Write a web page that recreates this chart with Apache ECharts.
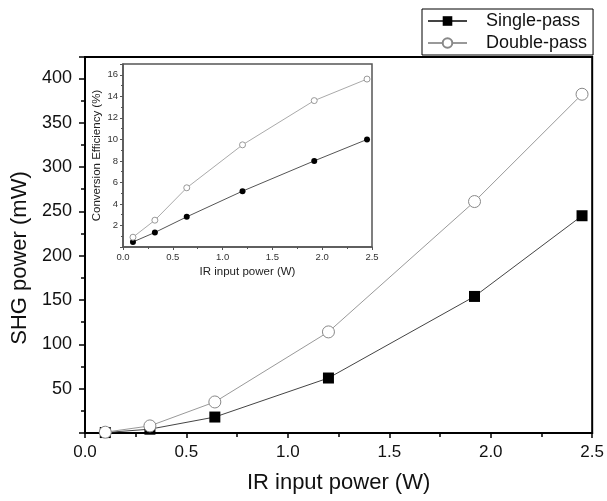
<!DOCTYPE html>
<html>
<head>
<meta charset="utf-8">
<script src="https://cdn.jsdelivr.net/npm/echarts@6/dist/echarts.min.js"></script>
<style>
html,body{margin:0;padding:0;background:#fff;}
#chart{width:607px;height:501px;}
</style>
</head>
<body>
<div id="chart"></div>
<script>
const irPower = [0.1, 0.32, 0.64, 1.2, 1.92, 2.45];
const singlePassSHG = [0.5, 4.3, 18, 62, 154, 245];
const doublePassSHG = [0.9, 8, 35, 114, 261, 382];
const singlePassEff = [0.47, 1.35, 2.8, 5.19, 8.0, 9.99];
const doublePassEff = [0.91, 2.49, 5.5, 9.49, 13.6, 15.6];
const seriesNames = ['Single-pass', 'Double-pass'];
const mainXTicks = [0, 0.5, 1.0, 1.5, 2.0, 2.5];
const mainYTicks = [50, 100, 150, 200, 250, 300, 350, 400];
const insetYTicks = [2, 4, 6, 8, 10, 12, 14, 16];

const pairs = (xs, ys) => xs.map((x, i) => [x, ys[i]]);
const FONT = 'Liberation Sans, Arial, sans-serif';

const chart = echarts.init(document.getElementById('chart'), null, {renderer: 'canvas'});
const option = {
  backgroundColor: '#fff',
  animation: false,
  textStyle: {fontFamily: FONT},
  legend: {
    data: seriesNames,
    orient: 'vertical',
    left: 422,
    top: 9,
    itemWidth: 39,
    itemHeight: 12,
    itemGap: 0,
    padding: [1, 6, 1, 5],
    borderColor: '#000',
    borderWidth: 1,
    backgroundColor: '#fff',
    textStyle: {fontFamily: FONT, fontSize: 18, color: '#111', lineHeight: 22, padding: [0, 0, 0, 14]}
  },
  grid: [
    {left: 85, right: 13, top: 57, bottom: 68, show: true, borderColor: '#000', borderWidth: 2, backgroundColor: 'transparent', z: 0},
    {left: 123, right: 235, top: 64, bottom: 254, show: true, borderColor: '#555', borderWidth: 1.5, backgroundColor: '#fff', z: 5}
  ],
  xAxis: [
    {
      type: 'value', gridIndex: 0, min: 0, max: 2.5, interval: 0.5,
      name: 'IR input power (W)', nameLocation: 'middle', nameGap: 39,
      nameTextStyle: {fontFamily: FONT, fontSize: 22, color: '#111'},
      axisLine: {show: true, lineStyle: {color: '#000', width: 2}},
      axisTick: {show: true, inside: false, length: 5, lineStyle: {color: '#000', width: 1.5}},
      minorTick: {show: true, splitNumber: 2, length: 4, lineStyle: {color: '#000', width: 1.5}},
      axisLabel: {fontFamily: FONT, fontSize: 17, color: '#111', margin: 11,
        formatter: v => mainXTicks.some(t => Math.abs(t - v) < 1e-9) ? v.toFixed(1) : ''},
      splitLine: {show: false}
    },
    {
      type: 'value', gridIndex: 1, min: 0, max: 2.5, interval: 0.5,
      name: 'IR input power (W)', nameLocation: 'middle', nameGap: 19,
      nameTextStyle: {fontFamily: FONT, fontSize: 11.5, color: '#222'},
      axisLine: {show: true, lineStyle: {color: '#555', width: 1.5}},
      axisTick: {show: true, inside: false, length: 3, lineStyle: {color: '#555', width: 1}},
      minorTick: {show: true, splitNumber: 2, length: 2, lineStyle: {color: '#555', width: 1}},
      axisLabel: {fontFamily: FONT, fontSize: 9.5, color: '#333', margin: 5,
        formatter: v => v.toFixed(1)},
      splitLine: {show: false}, z: 6
    }
  ],
  yAxis: [
    {
      type: 'value', gridIndex: 0, min: 0, max: 424, interval: 50,
      name: 'SHG power (mW)', nameLocation: 'middle', nameGap: 49,
      nameTextStyle: {fontFamily: FONT, fontSize: 22, color: '#111', padding: [0, 26, 0, 0]},
      axisLine: {show: true, lineStyle: {color: '#000', width: 2}},
      axisTick: {show: true, inside: false, length: 6, lineStyle: {color: '#000', width: 1.5}},
      minorTick: {show: true, splitNumber: 2, length: 4, lineStyle: {color: '#000', width: 1.5}},
      axisLabel: {fontFamily: FONT, fontSize: 18, color: '#111', margin: 13,
        formatter: v => mainYTicks.includes(v) ? String(v) : ''},
      splitLine: {show: false}
    },
    {
      type: 'value', gridIndex: 1, min: 0, max: 17, interval: 2,
      name: 'Conversion Efficiency (%)', nameLocation: 'middle', nameGap: 20,
      nameTextStyle: {fontFamily: FONT, fontSize: 11.5, color: '#222'},
      axisLine: {show: true, lineStyle: {color: '#555', width: 1.5}},
      axisTick: {show: true, inside: false, length: 3, lineStyle: {color: '#555', width: 1}},
      minorTick: {show: true, splitNumber: 2, length: 2, lineStyle: {color: '#555', width: 1}},
      axisLabel: {fontFamily: FONT, fontSize: 9.5, color: '#333', margin: 5,
        formatter: v => insetYTicks.includes(v) ? String(v) : ''},
      splitLine: {show: false}, z: 6
    }
  ],
  series: [
    {
      name: seriesNames[0], type: 'line', xAxisIndex: 0, yAxisIndex: 0,
      data: pairs(irPower, singlePassSHG),
      symbol: 'rect', symbolSize: 11,
      lineStyle: {color: '#444', width: 1},
      itemStyle: {color: '#000', borderColor: '#000', borderWidth: 0},
      z: 2
    },
    {
      name: seriesNames[1], type: 'line', xAxisIndex: 0, yAxisIndex: 0,
      data: pairs(irPower, doublePassSHG),
      symbol: 'circle', symbolSize: 12,
      lineStyle: {color: '#999', width: 1},
      itemStyle: {color: '#fff', borderColor: '#888', borderWidth: 1},
      z: 3
    },
    {
      name: 'Single-pass efficiency', type: 'line', xAxisIndex: 1, yAxisIndex: 1,
      data: pairs(irPower, singlePassEff),
      symbol: 'circle', symbolSize: 6,
      lineStyle: {color: '#555', width: 1},
      itemStyle: {color: '#000', borderColor: '#000', borderWidth: 0},
      z: 7
    },
    {
      name: 'Double-pass efficiency', type: 'line', xAxisIndex: 1, yAxisIndex: 1,
      data: pairs(irPower, doublePassEff),
      symbol: 'circle', symbolSize: 6,
      lineStyle: {color: '#aaa', width: 1},
      itemStyle: {color: '#fff', borderColor: '#999', borderWidth: 1},
      z: 7
    }
  ]
};
chart.setOption(option);
</script>
</body>
</html>
